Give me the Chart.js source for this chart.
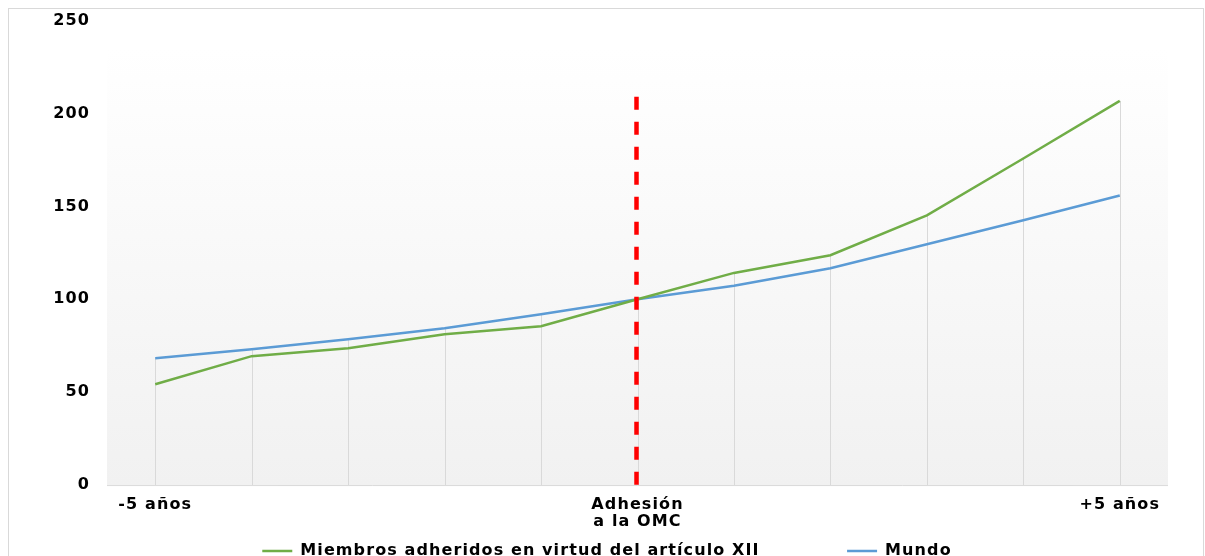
<!DOCTYPE html>
<html>
<head>
<meta charset="utf-8">
<script src="https://cdn.jsdelivr.net/npm/chart.js@4.4.1/dist/chart.umd.min.js"></script>
<style>
  html, body { margin: 0; padding: 0; background: #fff; overflow: hidden; }
  #wrap { position: absolute; left: 0; top: 0; width: 1205px; height: 556px; overflow: hidden; }
  #frame { position: absolute; left: 8px; top: 8px; width: 1194px; height: 600px; border: 1px solid #d9d9d9; }
  #box { position: absolute; left: 0; top: -6px; width: 1205px; height: 575px; }
</style>
</head>
<body>
<div id="wrap">
  <div id="frame"></div>
  <div id="box"><canvas id="chart"></canvas></div>
</div>
<script>
// categories: -5 .. +5 years around accession
const categories = ["-5 años", "", "", "", "", ["Adhesión", "a la OMC"], "", "", "", "", "+5 años"];
const article12Members = [54.3, 69.4, 73.7, 81.2, 85.5, 100, 114.2, 123.7, 145.2, 175.8, 206.8];
const world = [68.3, 73.1, 78.5, 84.4, 91.9, 100, 107.3, 116.7, 129.6, 142.5, 155.9];
const seriesNames = ["Miembros adheridos en virtud del artículo XII", "Mundo"];
const yTicks = [0, 50, 100, 150, 200, 250];
const accessionIndex = 5;
const accessionMarkerTop = 209;

const FONT = "'DejaVu Sans', Verdana, sans-serif";
const SPACING = "1.1px"; // widen DejaVu toward Verdana widths

const spacingPlugin = {
  id: "spacing",
  beforeUpdate(chart) { chart.ctx.letterSpacing = SPACING; },
  beforeDraw(chart) { chart.ctx.letterSpacing = SPACING; }
};

// plot area gradient + drop lines + accession marker
const decorPlugin = {
  id: "decor",
  beforeDatasetsDraw(chart) {
    const { ctx, chartArea: a, scales: { x, y } } = chart;
    ctx.save();
    const g = ctx.createLinearGradient(0, a.top, 0, a.bottom);
    g.addColorStop(0, "#ffffff");
    g.addColorStop(0.06, "#ffffff");
    g.addColorStop(1, "#f1f1f1");
    ctx.fillStyle = g;
    ctx.fillRect(a.left, a.top, a.right - a.left, a.bottom - a.top);

    // drop lines from the highest point of each category
    ctx.strokeStyle = "#d9d9d9";
    ctx.lineWidth = 1;
    categories.forEach((c, i) => {
      const top = Math.max(article12Members[i], world[i]);
      const px = Math.round(x.getPixelForValue(i)) + 0.5;
      ctx.beginPath();
      ctx.moveTo(px, y.getPixelForValue(top));
      ctx.lineTo(px, a.bottom);
      ctx.stroke();
    });

    // x axis line
    ctx.beginPath();
    ctx.moveTo(a.left, a.bottom + 0.5);
    ctx.lineTo(a.right, a.bottom + 0.5);
    ctx.stroke();
    ctx.restore();
  },
  afterDatasetsDraw(chart) {
    const { ctx, scales: { x, y } } = chart;
    const px = x.getPixelForValue(accessionIndex) - 1;
    ctx.save();
    ctx.strokeStyle = "#ff0000";
    ctx.lineWidth = 4.5;
    ctx.setLineDash([13, 12]);
    ctx.beginPath();
    ctx.moveTo(px, y.getPixelForValue(accessionMarkerTop));
    ctx.lineTo(px, y.getPixelForValue(0));
    ctx.stroke();
    ctx.restore();
  }
};

new Chart(document.getElementById("chart"), {
  type: "line",
  data: {
    labels: categories,
    datasets: [
      {
        label: seriesNames[0],
        data: article12Members,
        borderColor: "#70ad47",
        backgroundColor: "#70ad47",
        borderWidth: 2.5,
        pointRadius: 0,
        tension: 0
      },
      {
        label: seriesNames[1],
        data: world,
        borderColor: "#5b9bd5",
        backgroundColor: "#5b9bd5",
        borderWidth: 2.5,
        pointRadius: 0,
        tension: 0
      }
    ]
  },
  options: {
    responsive: true,
    maintainAspectRatio: false,
    animation: false,
    layout: { padding: { left: 46, right: 37, top: 4, bottom: 0 } },
    plugins: {
      legend: {
        position: "bottom",
        labels: {
          boxWidth: 30,
          boxHeight: 0,
          padding: 2,
          color: "#000",
          font: { family: FONT, size: 16, weight: "bold" },
          generateLabels(chart) {
            const items = Chart.defaults.plugins.legend.labels.generateLabels(chart);
            // Excel leaves a wide gap between entries
            items[0].text = items[0].text + "\u2003\u2003\u2003\u2003\u2003";
            return items;
          }
        }
      },
      tooltip: { enabled: false }
    },
    scales: {
      x: {
        offset: true,
        grid: { display: false, drawTicks: false },
        border: { display: false },
        ticks: {
          color: "#000",
          padding: 11,
          maxRotation: 0,
          autoSkip: false,
          font: { family: FONT, size: 16, weight: "bold", lineHeight: 1.06 }
        }
      },
      y: {
        min: 0,
        max: 250,
        afterBuildTicks: s => { s.ticks = yTicks.map(v => ({ value: v })); },
        afterFit: s => { s.width = 61; },
        grid: { display: false, drawTicks: false },
        border: { display: false },
        ticks: {
          color: "#000",
          padding: 17,
          font: { family: FONT, size: 16, weight: "bold" }
        }
      }
    }
  },
  plugins: [spacingPlugin, decorPlugin]
});
</script>
</body>
</html>
